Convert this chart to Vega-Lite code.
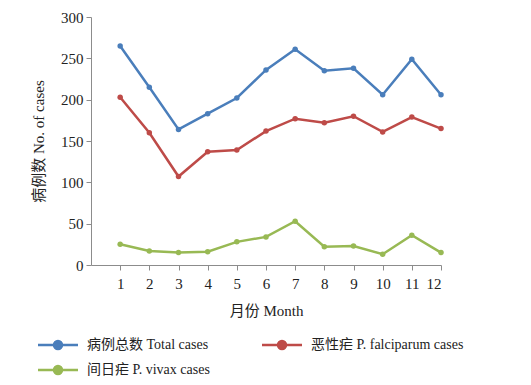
{
  "$schema": "https://vega.github.io/schema/vega-lite/v6.json",
  "autosize": "none",
  "width": 350,
  "height": 248,
  "padding": {"left": 91, "top": 17, "right": 90, "bottom": 120},
  "background": "white",
  "config": {
    "view": {"stroke": null},
    "font": "Liberation Serif, Noto Sans CJK SC"
  },
  "data": {
    "values": [
      {"month": 1, "series": "病例总数 Total cases", "cases": 265},
      {"month": 2, "series": "病例总数 Total cases", "cases": 215},
      {"month": 3, "series": "病例总数 Total cases", "cases": 164},
      {"month": 4, "series": "病例总数 Total cases", "cases": 183},
      {"month": 5, "series": "病例总数 Total cases", "cases": 202},
      {"month": 6, "series": "病例总数 Total cases", "cases": 236},
      {"month": 7, "series": "病例总数 Total cases", "cases": 261},
      {"month": 8, "series": "病例总数 Total cases", "cases": 235},
      {"month": 9, "series": "病例总数 Total cases", "cases": 238},
      {"month": 10, "series": "病例总数 Total cases", "cases": 206},
      {"month": 11, "series": "病例总数 Total cases", "cases": 249},
      {"month": 12, "series": "病例总数 Total cases", "cases": 206},
      {"month": 1, "series": "恶性疟 P. falciparum cases", "cases": 203},
      {"month": 2, "series": "恶性疟 P. falciparum cases", "cases": 160},
      {"month": 3, "series": "恶性疟 P. falciparum cases", "cases": 107},
      {"month": 4, "series": "恶性疟 P. falciparum cases", "cases": 137},
      {"month": 5, "series": "恶性疟 P. falciparum cases", "cases": 139},
      {"month": 6, "series": "恶性疟 P. falciparum cases", "cases": 162},
      {"month": 7, "series": "恶性疟 P. falciparum cases", "cases": 177},
      {"month": 8, "series": "恶性疟 P. falciparum cases", "cases": 172},
      {"month": 9, "series": "恶性疟 P. falciparum cases", "cases": 180},
      {"month": 10, "series": "恶性疟 P. falciparum cases", "cases": 161},
      {"month": 11, "series": "恶性疟 P. falciparum cases", "cases": 179},
      {"month": 12, "series": "恶性疟 P. falciparum cases", "cases": 165},
      {"month": 1, "series": "间日疟 P. vivax cases", "cases": 25},
      {"month": 2, "series": "间日疟 P. vivax cases", "cases": 17},
      {"month": 3, "series": "间日疟 P. vivax cases", "cases": 15},
      {"month": 4, "series": "间日疟 P. vivax cases", "cases": 16},
      {"month": 5, "series": "间日疟 P. vivax cases", "cases": 28},
      {"month": 6, "series": "间日疟 P. vivax cases", "cases": 34},
      {"month": 7, "series": "间日疟 P. vivax cases", "cases": 53},
      {"month": 8, "series": "间日疟 P. vivax cases", "cases": 22},
      {"month": 9, "series": "间日疟 P. vivax cases", "cases": 23},
      {"month": 10, "series": "间日疟 P. vivax cases", "cases": 13},
      {"month": 11, "series": "间日疟 P. vivax cases", "cases": 36},
      {"month": 12, "series": "间日疟 P. vivax cases", "cases": 15}
    ]
  },
  "mark": {"type": "line", "strokeWidth": 2.5, "point": {"size": 30, "filled": true}},
  "encoding": {
    "x": {
      "field": "month",
      "type": "quantitative",
      "scale": {"domain": [0, 12], "nice": false},
      "axis": {
        "title": "月份  Month",
        "values": [1, 2, 3, 4, 5, 6, 7, 8, 9, 10, 11, 12],
        "grid": false,
        "domainColor": "#8c8c8c",
        "tickColor": "#8c8c8c",
        "tickSize": 5,
        "labelFontSize": 15,
        "labelColor": "#222",
        "labelPadding": 6,
        "titleFontSize": 15,
        "titleFontWeight": "normal",
        "titleColor": "#222",
        "titlePadding": 12
      }
    },
    "y": {
      "field": "cases",
      "type": "quantitative",
      "scale": {"domain": [0, 300], "nice": false},
      "axis": {
        "title": "病例数  No.  of  cases",
        "values": [0, 50, 100, 150, 200, 250, 300],
        "grid": false,
        "domainColor": "#8c8c8c",
        "tickColor": "#8c8c8c",
        "tickSize": 5,
        "labelFontSize": 15,
        "labelColor": "#222",
        "labelPadding": 3,
        "titleFontSize": 15,
        "titleFontWeight": "normal",
        "titleColor": "#222",
        "titlePadding": 14
      }
    },
    "color": {
      "field": "series",
      "type": "nominal",
      "sort": ["病例总数 Total cases", "恶性疟 P. falciparum cases", "间日疟 P. vivax cases"],
      "scale": {
        "domain": ["病例总数 Total cases", "恶性疟 P. falciparum cases", "间日疟 P. vivax cases"],
        "range": ["#4a7ebb", "#be4b48", "#98b954"]
      },
      "legend": {
        "title": null,
        "orient": "none",
        "direction": "horizontal",
        "legendX": -40,
        "legendY": 321,
        "columns": 2,
        "columnPadding": 47,
        "rowPadding": 7,
        "symbolType": "M-4,0H4M0.8,0A0.8,0.8 0 1,1 -0.8,0A0.8,0.8 0 1,1 0.8,0Z",
        "symbolSize": 100,
        "symbolStrokeWidth": 2.5,
        "labelFontSize": 14,
        "labelColor": "#222",
        "labelOffset": 22,
        "labelLimit": 300,
        "encode": {
          "symbols": {"update": {"fill": {"scale": "color", "field": "value"}, "fillOpacity": {"value": 1}}}
        }
      }
    }
  }
}
